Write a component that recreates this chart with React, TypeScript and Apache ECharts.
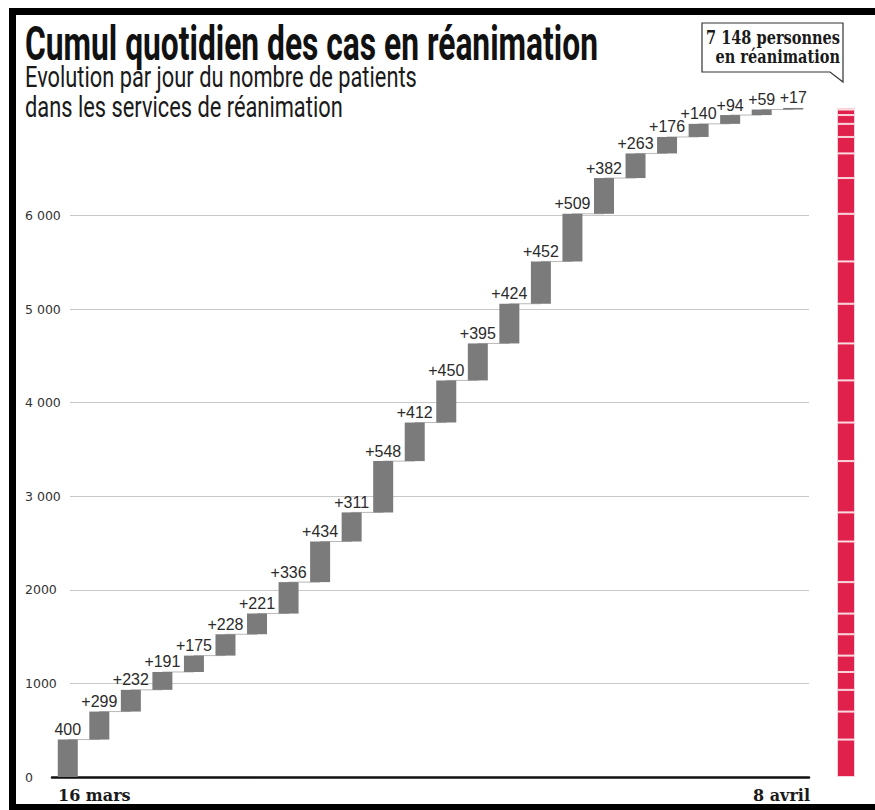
import React, { useEffect, useRef } from "react";
import * as echarts from "echarts";

// ---------- DATA ----------
const dates = [
  "16 mars", "17 mars", "18 mars", "19 mars", "20 mars", "21 mars", "22 mars", "23 mars",
  "24 mars", "25 mars", "26 mars", "27 mars", "28 mars", "29 mars", "30 mars", "31 mars",
  "1 avril", "2 avril", "3 avril", "4 avril", "5 avril", "6 avril", "7 avril", "8 avril",
];
const dailyChange = [
  400, 299, 232, 191, 175, 228, 221, 336, 434, 311, 548, 412,
  450, 395, 424, 452, 509, 382, 263, 176, 140, 94, 59, 17,
];
const yTickValues = [0, 1000, 2000, 3000, 4000, 5000, 6000];
const yTickLabels = ["0", "1000", "2000", "3 000", "4 000", "5 000", "6 000"];
const endLabels = [dates[0], dates[dates.length - 1]];
const titleText = "Cumul quotidien des cas en réanimation";
const subtitleLines = [
  "Evolution par jour du nombre de patients",
  "dans les services de réanimation",
];

// derived
const bases: number[] = [];
const tops: number[] = [];
{
  let acc = 0;
  for (const v of dailyChange) {
    bases.push(acc);
    acc += v;
    tops.push(acc);
  }
}
const total = tops[tops.length - 1];
const totalText = String(total).replace(/\B(?=(\d{3})+(?!\d))/g, " ");

// ---------- LAYOUT ----------
const Y0 = 777; // pixel of value 0
const PX_PER = 0.0936; // pixels per unit
const YMAX = 7400;
const GRID_BOTTOM = 810 - Y0;
const topFor = (v: number) => Y0 - v * PX_PER;

function measure(text: string, font: string): number {
  const ctx = document.createElement("canvas").getContext("2d");
  if (!ctx) return text.length * 10;
  ctx.font = font;
  return ctx.measureText(text).width;
}

export default function App() {
  const ref = useRef<HTMLDivElement>(null);

  useEffect(() => {
    if (!ref.current) return;
    const chart = echarts.init(ref.current, undefined, { renderer: "svg" });

    const titleFont = "bold 44px Roboto";
    const titleScale = 573 / measure(titleText, titleFont);
    const subFont = "27px Roboto";
    const subScale = 392 / measure(subtitleLines[0], subFont);
    const calloutFont = "bold 19px 'DejaVu Serif'";
    const line1 = `${totalText} personnes`;
    const calloutScale = 134 / measure(line1, calloutFont);

    const textEl = (
      text: string,
      x: number,
      y: number,
      font: string,
      fill: string,
      sx: number,
      sy: number,
      align: string = "left"
    ) => ({
      type: "text",
      x,
      y,
      scaleX: sx,
      scaleY: sy,
      silent: true,
      style: {
        text,
        x: 0,
        y: 0,
        font,
        fill,
        align,
        textAlign: align,
        verticalAlign: "middle",
        textVerticalAlign: "middle",
      },
    });

    const redSeries = dailyChange.map((v, i) => ({
      type: "bar",
      name: dates[i],
      xAxisIndex: 2,
      yAxisIndex: 2,
      stack: "red",
      data: [v],
      barWidth: 18,
      silent: true,
      itemStyle: { color: "#e0214b", borderColor: "#f9d4dc", borderWidth: 1 },
    }));

    const option: any = {
      animation: false,
      backgroundColor: "#ffffff",
      grid: [
        { left: 70, right: 66, top: topFor(6000), bottom: GRID_BOTTOM },
        { left: 52, right: 66, top: topFor(YMAX), bottom: GRID_BOTTOM },
        { left: 837, width: 18, top: topFor(YMAX), bottom: GRID_BOTTOM },
        { left: 58, right: 65, top: topFor(YMAX), bottom: GRID_BOTTOM },
      ],
      xAxis: [
        { gridIndex: 0, type: "category", data: dates, show: false },
        {
          gridIndex: 1,
          type: "category",
          data: dates,
          axisLine: { show: true, lineStyle: { color: "#111", width: 2.5 } },
          axisTick: { show: false },
          axisLabel: { show: false },
        },
        { gridIndex: 2, type: "category", data: ["total"], show: false },
        {
          gridIndex: 3,
          type: "category",
          data: endLabels,
          boundaryGap: false,
          axisLine: { show: false },
          axisTick: { show: false },
          axisLabel: {
            interval: 0,
            alignMinLabel: "left",
            alignMaxLabel: "right",
            margin: 10,
            fontFamily: "DejaVu Serif",
            fontWeight: "bold",
            fontSize: 16,
            color: "#1a1a1a",
          },
        },
      ],
      yAxis: [
        {
          gridIndex: 0,
          type: "value",
          min: 0,
          max: 6000,
          interval: 1000,
          axisLine: { show: false },
          axisTick: { show: false },
          splitLine: { show: true, lineStyle: { color: "#c8c8c8", width: 1 } },
          axisLabel: {
            align: "left",
            margin: 45,
            fontFamily: "DejaVu Sans",
            fontSize: 12.5,
            color: "#333",
            formatter: (v: number) => {
              const i = yTickValues.indexOf(v);
              return i >= 0 ? yTickLabels[i] : "";
            },
          },
        },
        { gridIndex: 1, type: "value", min: 0, max: YMAX, show: false },
        { gridIndex: 2, type: "value", min: 0, max: YMAX, show: false },
        { gridIndex: 3, type: "value", min: 0, max: YMAX, show: false },
      ],
      series: [
        {
          type: "line",
          name: "connecteur",
          xAxisIndex: 1,
          yAxisIndex: 1,
          data: tops,
          step: "end",
          symbol: "none",
          silent: true,
          z: 1,
          lineStyle: { color: "#b8b8b8", width: 1 },
        },
        {
          type: "bar",
          name: "base",
          xAxisIndex: 1,
          yAxisIndex: 1,
          stack: "w",
          data: bases,
          barWidth: 20,
          silent: true,
          z: 2,
          itemStyle: { color: "rgba(0,0,0,0)" },
        },
        {
          type: "bar",
          name: "variation",
          xAxisIndex: 1,
          yAxisIndex: 1,
          stack: "w",
          data: dailyChange,
          barWidth: 20,
          z: 2,
          itemStyle: { color: "#7b7b7b" },
          label: {
            show: true,
            position: "top",
            distance: 2,
            fontFamily: "Liberation Sans",
            fontSize: 16,
            color: "#2b2b2b",
            formatter: (p: any) => (p.dataIndex === 0 ? String(p.value) : "+" + p.value),
          },
        },
        ...redSeries,
      ],
      graphic: [
        { type: "rect", silent: true, shape: { x: 9, y: 8, width: 7, height: 802 }, style: { fill: "#000" } },
        { type: "rect", silent: true, shape: { x: 9, y: 8, width: 866, height: 7 }, style: { fill: "#000" } },
        { type: "rect", silent: true, shape: { x: 9, y: 804, width: 866, height: 6 }, style: { fill: "#000" } },
        textEl(titleText, 25, 44, titleFont, "#111", titleScale, 1.08),
        textEl(subtitleLines[0], 25, 77, subFont, "#1a1a1a", subScale, 1.1),
        textEl(subtitleLines[1], 25, 107, subFont, "#1a1a1a", subScale, 1.1),
        {
          type: "polygon",
          silent: true,
          shape: { points: [[702, 23], [843, 23], [843, 82], [830, 72], [702, 72]] },
          style: { fill: "#fff", stroke: "#333", lineWidth: 1.2 },
        },
        textEl(line1, 840, 37, calloutFont, "#1a1a1a", calloutScale, 1, "right"),
        textEl("en réanimation", 840, 56, calloutFont, "#1a1a1a", calloutScale, 1, "right"),
      ],
    };

    chart.setOption(option);
    return () => chart.dispose();
  }, []);

  return (
    <div
      ref={ref}
      style={{ position: "fixed", left: 0, top: 0, width: 875, height: 810, background: "#fff" }}
    />
  );
}
